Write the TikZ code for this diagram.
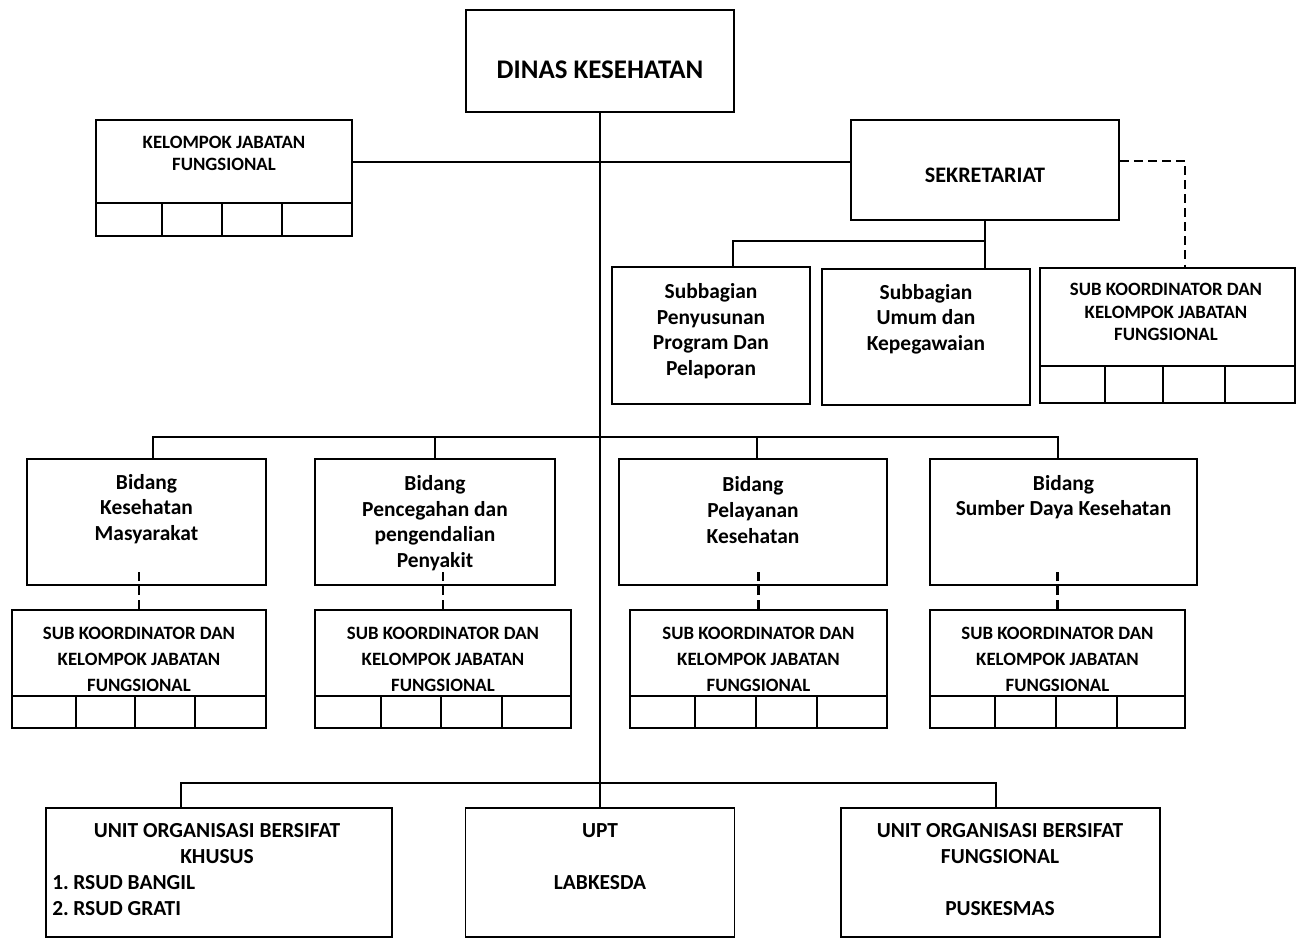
\documentclass[tikz,border=0pt]{standalone}
\usepackage{fontspec}
\setmainfont{Carlito}

\begin{document}
\begin{tikzpicture}[
  x=0.02cm, y=-0.02cm,
  box/.style={draw, line width=1pt, inner sep=0pt},
  sz/.style 2 args={minimum width=#1*0.02cm, minimum height=#2*0.02cm},
  lbl/.style={font=\bfseries\fontsize{12.2}{14.6}\selectfont, align=center, inner sep=0pt},
  unit/.style={lbl, font=\bfseries\fontsize{12.2}{14.8}\selectfont},
  caps/.style={font=\bfseries\fontsize{10.7}{14.8}\selectfont, align=center, inner sep=0pt},
  capsm/.style={caps, font=\bfseries\fontsize{10.7}{12.6}\selectfont},
  conn/.style={line width=1pt},
  dsh/.style={conn, line width=1.2pt, dash pattern=on 5pt off 3pt}
]
\clip (0,0) rectangle (1299,939);

% top level
\node[box, sz={268}{102}] (dinas) at (600,61) {};
\node[lbl, font=\bfseries\fontsize{15.3}{17}\selectfont] (dinas-t) at (600,70) {DINAS KESEHATAN};

\node[box, sz={256}{116}] (kjf) at (224,178) {};
\node[capsm] (kjf-t) at (224,153) {KELOMPOK JABATAN\\FUNGSIONAL};

\node[box, sz={268}{100}] (sek) at (985,170) {};
\node[lbl, font=\bfseries\fontsize{12.6}{14.6}\selectfont] (sek-t) at (985,175) {SEKRETARIAT};

% sekretariat row
\node[box, sz={198}{137}] (sbp) at (711,335.5) {};
\node[lbl] (sbp-t) at (711,331) {Subbagian\\Penyusunan\\Program Dan\\Pelaporan};
\node[box, sz={208}{136}] (sbu) at (926,337) {};
\node[lbl] (sbu-t) at (926,319) {Subbagian\\Umum dan\\Kepegawaian};
\node[box, sz={255}{135}] (sks) at (1167.5,335.5) {};
\node[capsm] (sks-t) at (1166,312) {SUB KOORDINATOR DAN\\KELOMPOK JABATAN\\FUNGSIONAL};

% bidang row
\node[box, sz={239}{126}] (b1) at (146.5,522) {};
\node[lbl] (b1-t) at (146.5,509) {Bidang\\Kesehatan\\Masyarakat};
\node[box, sz={240}{126}] (b2) at (435,522) {};
\node[lbl] (b2-t) at (435,523) {Bidang\\Pencegahan dan\\pengendalian\\Penyakit};
\node[box, sz={268}{126}] (b3) at (753,522) {};
\node[lbl] (b3-t) at (753,510) {Bidang\\Pelayanan\\Kesehatan};
\node[box, sz={267}{126}] (b4) at (1063.5,522) {};
\node[lbl] (b4-t) at (1063.5,497) {Bidang\\Sumber Daya Kesehatan};

% sub koordinator row
\foreach \n/\x/\w in {sk1/139/254, sk2/443/256, sk3/758.5/257, sk4/1057.5/255} {
  \node[box, sz={\w}{118}] (\n) at (\x,669) {};
  \node[caps] (\n-t) at (\x,659) {SUB KOORDINATOR DAN\\KELOMPOK JABATAN\\FUNGSIONAL};
}

% cells under the fungsional boxes
\foreach \n/\y/\xa/\xb/\xc in {kjf/203/162/222/282, sks/366/1105/1163/1225,
    sk1/696/76/135/195, sk2/696/381/441/502, sk3/696/695/756/817, sk4/696/995/1056/1117} {
  \draw[conn] (\n.west |- 0,\y) -- (\n.east |- 0,\y);
  \foreach \x in {\xa,\xb,\xc}
    \draw[conn] (\x,\y) -- (\x,\y |- \n.south);
}

% unit row
\node[box, sz={346}{129}] (u1) at (219,872.5) {};
\node[unit] (u1-t) at (217,844) {UNIT ORGANISASI BERSIFAT\\KHUSUS};
\node[unit, align=left, anchor=west] (u1-l) at (52,896)
  {\makebox[0.42cm][l]{1.}RSUD BANGIL\\\makebox[0.42cm][l]{2.}RSUD GRATI};
\node[box, sz={269}{129}] (u2) at (600,872.5) {};
\node[unit] (u2-t) at (600,831) {UPT};
\node[unit] (u2-l) at (600,883) {LABKESDA};
\node[box, sz={319}{129}] (u3) at (1000.5,872.5) {};
\node[unit] (u3-t) at (1000,844) {UNIT ORGANISASI BERSIFAT\\FUNGSIONAL};
\node[unit] (u3-l) at (1000,909) {PUSKESMAS};

% connectors
\coordinate (sb) at (0,241);
\coordinate (bbus) at (600,437);
\coordinate (ubus) at (600,783);
\draw[conn] (dinas.south) -- (u2.north);
\draw[conn] ([yshift=0.32cm]kjf.east) -- ([yshift=0.32cm]kjf.east -| sek.west);
\draw[conn] (sek.south) -- (sek.south |- sbu.north);
\draw[conn] (sek.south |- sb) -| ([xshift=0.44cm]sbp.north);
\draw[dsh] ([yshift=0.18cm]sek.east) -| ([xshift=0.35cm]sks.north);
\draw[conn] ([xshift=0.13cm]b1.north) |- (bbus) -| ([xshift=-0.11cm]b4.north);
\draw[conn] (b2.north) -- (b2.north |- bbus);
\draw[conn] ([xshift=0.08cm]b3.north) -- ([xshift=0.08cm]b3.north |- bbus);
\foreach \n in {sk1,sk2,sk3,sk4}
  \draw[dsh] (\n.north) -- ++(0,-40);
\draw[conn] ([xshift=-0.76cm]u1.north) |- (ubus) -| ([xshift=-0.09cm]u3.north);
\end{tikzpicture}
\end{document}
